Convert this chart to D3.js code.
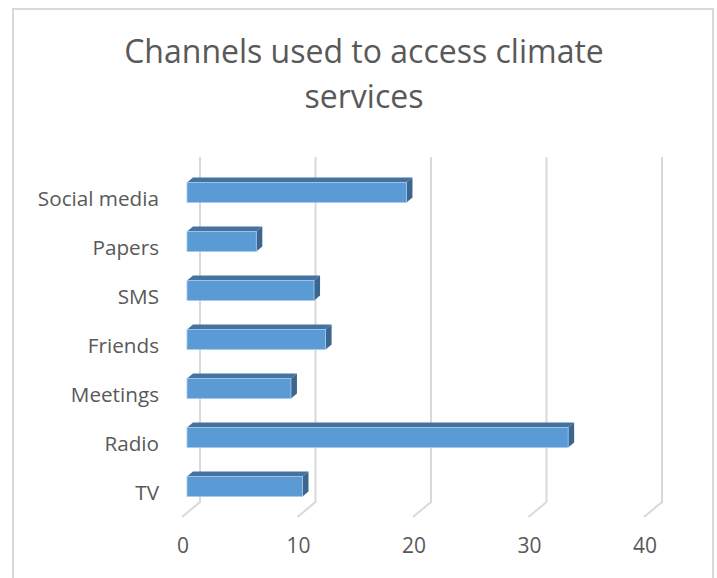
<!DOCTYPE html>
<html>
<head>
<meta charset="utf-8">
<script src="https://cdn.jsdelivr.net/npm/d3@7"></script>
<style>
  html, body { margin: 0; padding: 0; background: #ffffff; }
  svg { display: block; }
</style>
</head>
<body>
<svg id="chart" width="717" height="578"></svg>
<script>
// ---- data ----
const categories = ["Social media", "Papers", "SMS", "Friends", "Meetings", "Radio", "TV"];
const values = [19, 6, 11, 12, 9, 33, 10];
const tickValues = [0, 10, 20, 30, 40];
const titleLines = ["Channels used to access climate", "services"];

// ---- layout ----
const svg = d3.select("#chart");
const font = "'Open Sans', 'DejaVu Sans', sans-serif";
const textColor = "#595959";

// chart frame
svg.append("rect")
  .attr("x", 13).attr("y", 9)
  .attr("width", 700).attr("height", 600)
  .attr("fill", "#fff")
  .attr("stroke", "#d9d9d9").attr("stroke-width", 2);

// title
svg.append("g").selectAll("text")
  .data(titleLines)
  .join("text")
  .attr("x", 364)
  .attr("y", (d, i) => 63 + i * 45)
  .attr("text-anchor", "middle")
  .attr("font-family", font)
  .attr("font-size", 32)
  .attr("fill", textColor)
  .text(d => d);

// scales (back wall of the 3D plot)
const x = d3.scaleLinear().domain([0, 40]).range([200, 662]);
const y = d3.scalePoint().domain(categories).range([192.5, 486.5]);

const wallTop = 157, wallBottom = 502;
const floorDx = -18, floorDy = 15;   // floor depth (back -> front)
const barFrontDx = -13;              // bar front face relative to back wall
const barDepthX = 6, barDepthY = -5; // bar depth extrusion
const barH = 20;

// gridlines: vertical on back wall, then diagonal across floor
const grid = svg.append("g")
  .attr("fill", "none")
  .attr("stroke", "#d9d9d9")
  .attr("stroke-width", 2);
grid.selectAll("path")
  .data(tickValues)
  .join("path")
  .attr("d", d => {
    const xb = x(d);
    return `M${xb},${wallTop} L${xb},${wallBottom} L${xb + floorDx},${wallBottom + floorDy}`;
  });

// x tick labels (at front of floor)
svg.append("g").selectAll("text")
  .data(tickValues)
  .join("text")
  .attr("x", d => x(d) + floorDx + 1)
  .attr("y", 553)
  .attr("text-anchor", "middle")
  .attr("font-family", font)
  .attr("font-size", 21)
  .attr("fill", textColor)
  .text(d => d);

// category labels
svg.append("g").selectAll("text")
  .data(categories)
  .join("text")
  .attr("x", 159)
  .attr("y", d => y(d) + 13)
  .attr("text-anchor", "end")
  .attr("font-family", font)
  .attr("font-size", 20.7)
  .attr("fill", textColor)
  .text(d => d);

// bars (3D)
const bars = svg.append("g").selectAll("g")
  .data(categories.map((c, i) => ({ c, v: values[i] })))
  .join("g");

bars.each(function(d) {
  const g = d3.select(this);
  const x0 = x(0) + barFrontDx;
  const x1 = x(d.v) + barFrontDx;
  const top = y(d.c) - barH / 2;
  const bot = top + barH;
  // top face
  g.append("path")
    .attr("d", `M${x0},${top} L${x0 + barDepthX},${top + barDepthY} L${x1 + barDepthX},${top + barDepthY} L${x1},${top} Z`)
    .attr("fill", "#44739f");
  // right face
  g.append("path")
    .attr("d", `M${x1},${top} L${x1 + barDepthX},${top + barDepthY} L${x1 + barDepthX},${bot + barDepthY} L${x1},${bot} Z`)
    .attr("fill", "#3b6690");
  // front face
  g.append("rect")
    .attr("x", x0).attr("y", top)
    .attr("width", x1 - x0).attr("height", barH)
    .attr("fill", "#5b9bd5")
    .attr("stroke", "#a9c8ea").attr("stroke-width", 0.8);
});
</script>
</body>
</html>
